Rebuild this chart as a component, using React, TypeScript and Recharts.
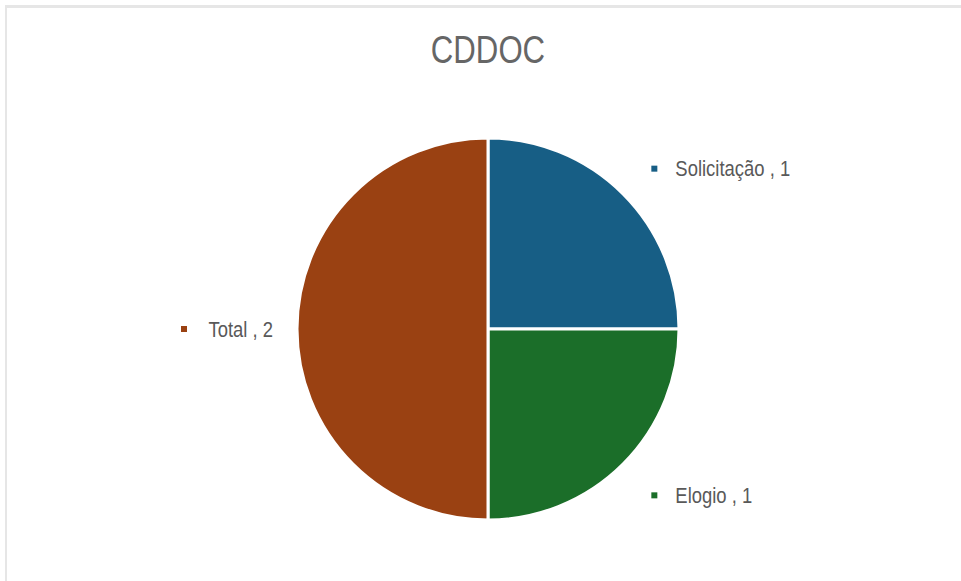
import { PieChart, Pie, Cell } from 'recharts'

const categories = ['Solicitação', 'Elogio', 'Total']
const values = [1, 1, 2]
const colors = ['#175e85', '#1b6e29', '#9a4112']

const data = categories.map((name, i) => ({ name, value: values[i] }))

const RADIAN = Math.PI / 180
const labelFont = "'Liberation Sans', Arial, sans-serif"
// no narrow font installed, so squeeze the text horizontally
const NARROW = 0.82

function renderLabel(props: any) {
    const { cx, cy, midAngle, outerRadius, name, value, index } = props
    const cos = Math.cos(-midAngle * RADIAN)
    const sin = Math.sin(-midAngle * RADIAN)
    const right = cos >= 0
    const r = outerRadius + (right ? 40 : 24)
    const x = cx + r * cos
    const y = cy + r * sin + (right ? 3 : 0)
    const text = `${name} , ${value}`
    if (right) {
        return (
            <g>
                <rect x={x} y={y - 3} width={6} height={6} fill={colors[index]} />
                <text
                    transform={`translate(${x + 24},${y}) scale(${NARROW},1)`}
                    dy={7.5}
                    fontSize={22.5}
                    fill="#595959"
                    fontFamily={labelFont}
                    textAnchor="start"
                >
                    {text}
                </text>
            </g>
        )
    }
    return (
        <g>
            <text
                transform={`translate(${x},${y}) scale(${NARROW},1)`}
                dy={7.5}
                fontSize={22.5}
                fill="#595959"
                fontFamily={labelFont}
                textAnchor="end"
            >
                {text}
            </text>
            <rect x={x - 92} y={y - 3} width={6} height={6} fill={colors[index]} />
        </g>
    )
}

export default function App() {
    return (
        <div style={{ position: 'relative', width: 961, height: 581, background: '#fff' }}>
            <style>{`body { margin: 0; }`}</style>
            <div
                style={{
                    position: 'absolute',
                    left: 5,
                    top: 5,
                    width: 956,
                    height: 576,
                    borderTop: '3px solid #e6e6e6',
                    borderLeft: '2px solid #e6e6e6',
                    boxSizing: 'border-box',
                }}
            />
            <div
                style={{
                    position: 'absolute',
                    left: 0,
                    width: 976,
                    top: 28,
                    textAlign: 'center',
                    fontFamily: labelFont,
                    fontSize: 38,
                    color: '#666',
                    lineHeight: '44px',
                    transform: `scaleX(${NARROW})`,
                }}
            >
                CDDOC
            </div>
            <div style={{ position: 'absolute', left: 0, top: 0 }}>
                <PieChart width={961} height={581}>
                    <Pie
                        data={data}
                        dataKey="value"
                        nameKey="name"
                        cx={483}
                        cy={324}
                        outerRadius={191}
                        startAngle={90}
                        endAngle={-270}
                        stroke="#fff"
                        strokeWidth={3}
                        label={renderLabel}
                        labelLine={false}
                        isAnimationActive={false}
                    >
                        {data.map((d, i) => (
                            <Cell key={d.name} fill={colors[i]} />
                        ))}
                    </Pie>
                </PieChart>
            </div>
        </div>
    )
}
